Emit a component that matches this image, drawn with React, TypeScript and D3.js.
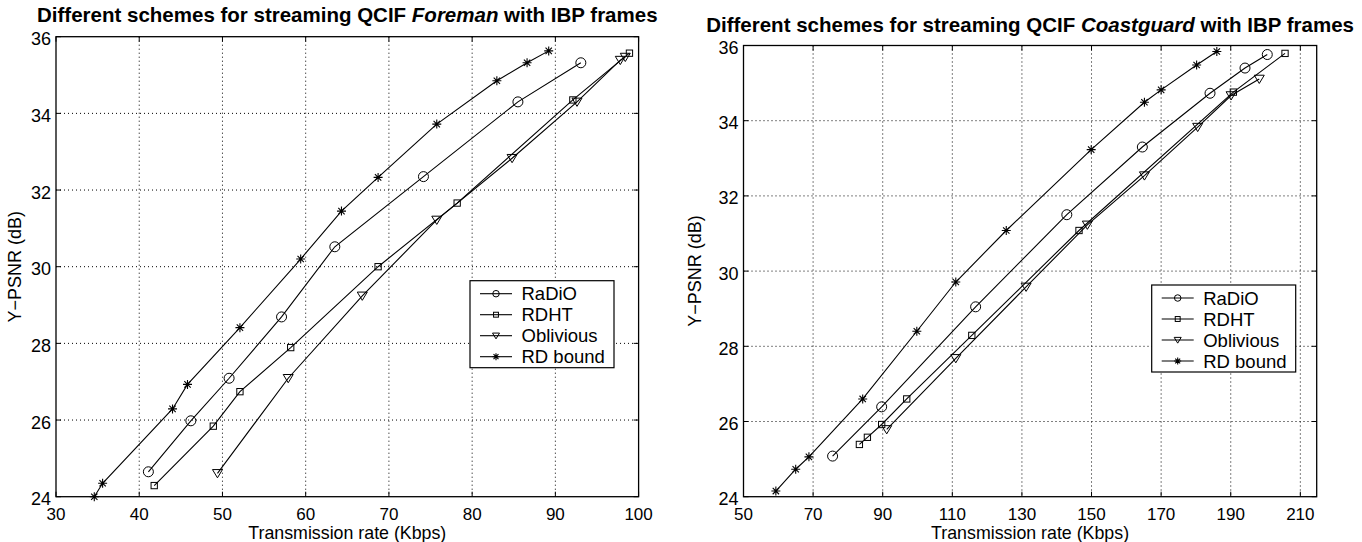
import React from "react";
import * as d3 from "d3";

// Foreman sequence (left panel)
const foremanRadioRate = [41.1, 46.2, 50.8, 57.1, 63.5, 74.15, 85.5, 93.06];
const foremanRadioPsnr = [24.65, 25.98, 27.09, 28.69, 30.52, 32.35, 34.3, 35.32];
const foremanRdhtRate = [41.8, 48.9, 52.1, 58.2, 68.7, 78.2, 92.1, 98.9];
const foremanRdhtPsnr = [24.29, 25.84, 26.74, 27.89, 30.0, 31.66, 34.35, 35.57];
const foremanObliviousRate = [49.4, 57.9, 66.8, 75.75, 84.8, 92.6, 97.8, 98.4];
const foremanObliviousPsnr = [24.61, 27.09, 29.24, 31.22, 32.83, 34.3, 35.39, 35.47];
const foremanBoundRate = [34.6, 35.6, 44.0, 45.8, 52.1, 59.4, 64.3, 68.7, 75.75, 82.97, 86.6, 89.2];
const foremanBoundPsnr = [24.0, 24.35, 26.29, 26.93, 28.41, 30.2, 31.45, 32.33, 33.72, 34.85, 35.32, 35.63];

// Coastguard sequence (right panel)
const coastRadioRate = [75.6, 89.7, 116.7, 142.9, 164.6, 184.05, 194.1, 200.5];
const coastRadioPsnr = [25.08, 26.39, 29.05, 31.5, 33.3, 34.73, 35.4, 35.76];
const coastRdhtRate = [83.3, 85.6, 89.7, 96.9, 115.6, 146.4, 190.75, 205.6];
const coastRdhtPsnr = [25.39, 25.58, 25.92, 26.6, 28.29, 31.08, 34.76, 35.79];
const coastObliviousRate = [91.15, 111.0, 131.2, 148.8, 165.2, 180.5, 190.1, 198.2];
const coastObliviousPsnr = [25.79, 27.68, 29.58, 31.23, 32.54, 33.83, 34.67, 35.11];
const coastBoundRate = [59.3, 65.0, 68.8, 84.25, 99.8, 111.0, 125.5, 149.9, 165.2, 170.0, 180.2, 186.0];
const coastBoundPsnr = [24.15, 24.73, 25.06, 26.6, 28.4, 29.71, 31.08, 33.23, 34.49, 34.82, 35.48, 35.84];

// Axis ticks
const foremanRateTicks = [30, 40, 50, 60, 70, 80, 90, 100];
const coastRateTicks = [50, 70, 90, 110, 130, 150, 170, 190, 210];
const psnrTicks = [24, 26, 28, 30, 32, 34, 36];

const seriesNames = ["RaDiO", "RDHT", "Oblivious", "RD bound"];
const markerKinds = ["circle", "square", "triangle", "star"];

const FONT = "'Liberation Sans', Arial, Helvetica, sans-serif";

type Marker = "circle" | "square" | "triangle" | "star";

function MarkerShape({ kind, x, y, s }: { kind: Marker; x: number; y: number; s: number }) {
  const common = { fill: "none", stroke: "#000", strokeWidth: 1 };
  if (kind === "circle") return <circle cx={x} cy={y} r={s / 2} {...common} />;
  if (kind === "square")
    return <rect x={x - s * 0.35} y={y - s * 0.35} width={s * 0.7} height={s * 0.7} {...common} />;
  if (kind === "triangle") {
    const h = s * 0.5;
    return (
      <path
        d={`M${x - h},${y - h * 0.75}L${x + h},${y - h * 0.75}L${x},${y + h * 0.9}Z`}
        {...common}
      />
    );
  }
  const r = s / 2;
  const d = r * 0.707;
  return (
    <path
      d={`M${x - r},${y}L${x + r},${y}M${x},${y - r}L${x},${y + r}M${x - d},${y - d}L${x + d},${y + d}M${x - d},${y + d}L${x + d},${y - d}`}
      stroke="#000"
      strokeWidth={1.1}
      fill="none"
    />
  );
}

type Series = { rate: number[]; psnr: number[] };

type PanelProps = {
  left: number;
  right: number;
  top: number;
  bottom: number;
  xDomain: [number, number];
  xTicks: number[];
  series: Series[];
  titleBefore: string;
  titleItalic: string;
  titleAfter: string;
  titleY: number;
  legendX: number;
  legendY: number;
  ylabelX: number;
};

function Panel(p: PanelProps) {
  const x = d3.scaleLinear().domain(p.xDomain).range([p.left, p.right]);
  const y = d3.scaleLinear().domain([24, 36]).range([p.bottom, p.top]);
  const line = d3
    .line<[number, number]>()
    .x((d) => x(d[0]))
    .y((d) => y(d[1]));
  const tick = 5;
  const cx = (p.left + p.right) / 2;
  const legW = 144;
  const legH = 87;
  const rowGap = 21;

  return (
    <g fontFamily={FONT}>
      <text x={cx} y={p.titleY} textAnchor="middle" fontSize={20.5} fontWeight="bold">
        {p.titleBefore}
        <tspan fontStyle="italic">{p.titleItalic}</tspan>
        {p.titleAfter}
      </text>

      {/* dotted grid */}
      {p.xTicks
        .filter((t) => x(t) > p.left + 1 && x(t) < p.right - 1)
        .map((t) => (
          <line
            key={"gx" + t}
            x1={x(t)}
            x2={x(t)}
            y1={p.top}
            y2={p.bottom}
            stroke="#000"
            strokeWidth={1}
            strokeDasharray="1,3"
          />
        ))}
      {psnrTicks
        .filter((t) => t > 24 && t < 36)
        .map((t) => (
          <line
            key={"gy" + t}
            x1={p.left}
            x2={p.right}
            y1={y(t)}
            y2={y(t)}
            stroke="#000"
            strokeWidth={1}
            strokeDasharray="1,3"
          />
        ))}

      {/* inward ticks on all sides */}
      {p.xTicks.map((t) => (
        <g key={"tx" + t}>
          <line x1={x(t)} x2={x(t)} y1={p.bottom} y2={p.bottom - tick} stroke="#000" />
          <line x1={x(t)} x2={x(t)} y1={p.top} y2={p.top + tick} stroke="#000" />
          <text x={x(t)} y={p.bottom + 22.8} textAnchor="middle" fontSize={17}>
            {t}
          </text>
        </g>
      ))}
      {psnrTicks.map((t) => (
        <g key={"ty" + t}>
          <line x1={p.left} x2={p.left + tick} y1={y(t)} y2={y(t)} stroke="#000" />
          <line x1={p.right} x2={p.right - tick} y1={y(t)} y2={y(t)} stroke="#000" />
          <text x={p.left - 5} y={y(t) + 8.5} textAnchor="end" fontSize={18}>
            {t}
          </text>
        </g>
      ))}

      {/* series */}
      {p.series.map((s, i) => {
        const pts = s.rate.map((r, j) => [r, s.psnr[j]] as [number, number]);
        return (
          <g key={"s" + i}>
            <path d={line(pts) || ""} fill="none" stroke="#000" strokeWidth={1.1} />
            {pts.map((d, j) => (
              <MarkerShape
                key={j}
                kind={markerKinds[i] as Marker}
                x={x(d[0])}
                y={y(d[1])}
                s={i === 1 ? 9 : i === 3 ? 9 : 10}
              />
            ))}
          </g>
        );
      })}

      <rect
        x={p.left}
        y={p.top}
        width={p.right - p.left}
        height={p.bottom - p.top}
        fill="none"
        stroke="#000"
        strokeWidth={1.3}
      />

      <text x={cx} y={p.bottom + 42.3} textAnchor="middle" fontSize={17.8}>
        Transmission rate (Kbps)
      </text>
      <text
        transform={`translate(${p.ylabelX},${(p.top + p.bottom) / 2}) rotate(-90)`}
        textAnchor="middle"
        fontSize={18}
      >
        Y−PSNR (dB)
      </text>

      {/* legend */}
      <g transform={`translate(${p.legendX},${p.legendY})`}>
        <rect x={0} y={0} width={legW} height={legH} fill="#fff" stroke="#000" strokeWidth={1.2} />
        {seriesNames.map((name, i) => {
          const ry = 13 + i * rowGap;
          return (
            <g key={name}>
              <line x1={10} x2={42} y1={ry} y2={ry} stroke="#000" strokeWidth={1.1} />
              <MarkerShape kind={markerKinds[i] as Marker} x={26} y={ry} s={i === 0 ? 6.5 : 7} />
              <text x={51.5} y={ry + 6.5} fontSize={18.5}>
                {name}
              </text>
            </g>
          );
        })}
      </g>
    </g>
  );
}

export default function App() {
  return (
    <svg
      width={1362}
      height={542}
      style={{ position: "absolute", left: 0, top: 0, background: "#fff" }}
    >
      <rect width={1362} height={542} fill="#fff" />
      <Panel
        left={56}
        right={638.6}
        top={36.7}
        bottom={496.7}
        xDomain={[30, 100]}
        xTicks={foremanRateTicks}
        series={[
          { rate: foremanRadioRate, psnr: foremanRadioPsnr },
          { rate: foremanRdhtRate, psnr: foremanRdhtPsnr },
          { rate: foremanObliviousRate, psnr: foremanObliviousPsnr },
          { rate: foremanBoundRate, psnr: foremanBoundPsnr },
        ]}
        titleBefore="Different schemes for streaming QCIF "
        titleItalic="Foreman"
        titleAfter=" with IBP frames"
        titleY={22}
        legendX={470}
        legendY={280.7}
        ylabelX={21}
      />
      <Panel
        left={743.5}
        right={1316.7}
        top={45.5}
        bottom={496.7}
        xDomain={[50, 214.7]}
        xTicks={coastRateTicks}
        series={[
          { rate: coastRadioRate, psnr: coastRadioPsnr },
          { rate: coastRdhtRate, psnr: coastRdhtPsnr },
          { rate: coastObliviousRate, psnr: coastObliviousPsnr },
          { rate: coastBoundRate, psnr: coastBoundPsnr },
        ]}
        titleBefore="Different schemes for streaming QCIF "
        titleItalic="Coastguard"
        titleAfter=" with IBP frames"
        titleY={32}
        legendX={1151.7}
        legendY={285}
        ylabelX={701}
      />
    </svg>
  );
}
